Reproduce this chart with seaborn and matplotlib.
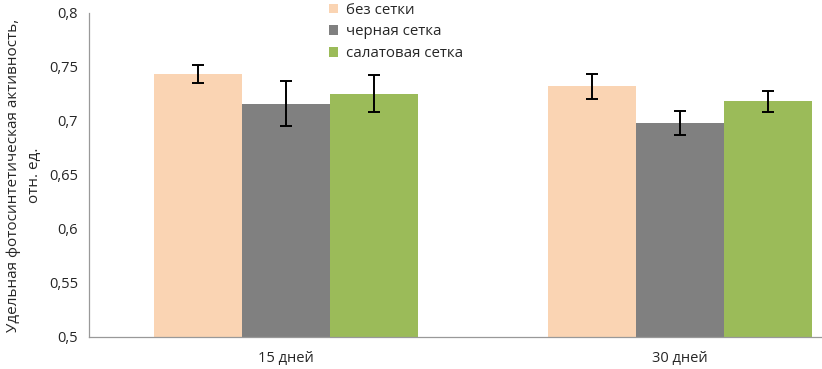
import matplotlib
matplotlib.use("Agg")
import matplotlib.pyplot as plt
import seaborn as sns
import pandas as pd
import numpy as np
from matplotlib.patches import Patch

categories = ["15 дней", "30 дней"]
series = ["без сетки", "черная сетка", "салатовая сетка"]
values = {
    "без сетки": [0.7435, 0.7322],
    "черная сетка": [0.7159, 0.6982],
    "салатовая сетка": [0.7254, 0.7183],
}
errors = {
    "без сетки": [0.0085, 0.0114],
    "черная сетка": [0.0207, 0.0108],
    "салатовая сетка": [0.0173, 0.0097],
}
colors = ["#FAD4B3", "#808080", "#9BBB59"]
yticks = [0.5, 0.55, 0.6, 0.65, 0.7, 0.75, 0.8]
ytick_labels = ["0,5", "0,55", "0,6", "0,65", "0,7", "0,75", "0,8"]

rows = []
for s in series:
    for c, v in zip(categories, values[s]):
        rows.append({"cat": c, "series": s, "value": v})
df = pd.DataFrame(rows)

sns.set_style("white")
plt.rcParams["font.family"] = ["Open Sans", "DejaVu Sans"]

W, H = 822, 369
fig = plt.figure(figsize=(W / 100, H / 100), dpi=100)
ax = fig.add_axes([89 / W, (H - 337) / H, 788 / W, 324 / H])

sns.barplot(data=df, x="cat", y="value", hue="series", order=categories,
            hue_order=series, palette=colors, width=0.67, gap=0,
            errorbar=None, ax=ax, legend=False, saturation=1, linewidth=0)

for s, container in zip(series, ax.containers):
    xs = [p.get_x() + p.get_width() / 2 for p in container.patches]
    ax.errorbar(xs, values[s], yerr=errors[s], fmt="none", ecolor="black",
                elinewidth=1.4, capsize=4, capthick=1.4, zorder=5)

ax.set_ylim(0.5, 0.8)
ax.set_xlim(-0.5, 1.5)
ax.set_yticks(yticks)
ax.set_yticklabels(ytick_labels, fontsize=10.5)
ax.set_xticks([0, 1])
ax.set_xticklabels(categories, fontsize=10.5)
ax.set_xticks([0.5], minor=True)
ax.tick_params(axis="x", which="major", length=0, pad=10)
ax.tick_params(axis="x", which="minor", length=5, color="#999999", width=0.8, direction="out")
ax.tick_params(axis="y", length=5, color="#999999", width=0.8, direction="out", pad=3)
ax.set_xlabel("")
ax.set_ylabel("Удельная фотосинтетическая активность,\nотн. ед.", fontsize=11,
              labelpad=5, linespacing=1.55)
for side in ["top", "right"]:
    ax.spines[side].set_visible(False)
for side in ["left", "bottom"]:
    ax.spines[side].set_color("#999999")
    ax.spines[side].set_linewidth(0.9)

handles = [Patch(facecolor=c, edgecolor="none") for c in colors]
fig.legend(handles, series, loc="upper left", bbox_to_anchor=(323 / W, 1.009),
           frameon=False, fontsize=10.8, handlelength=0.6, handleheight=0.6,
           handletextpad=0.5, labelspacing=0.45, borderaxespad=0)

fig.savefig("out.png", dpi=100)
